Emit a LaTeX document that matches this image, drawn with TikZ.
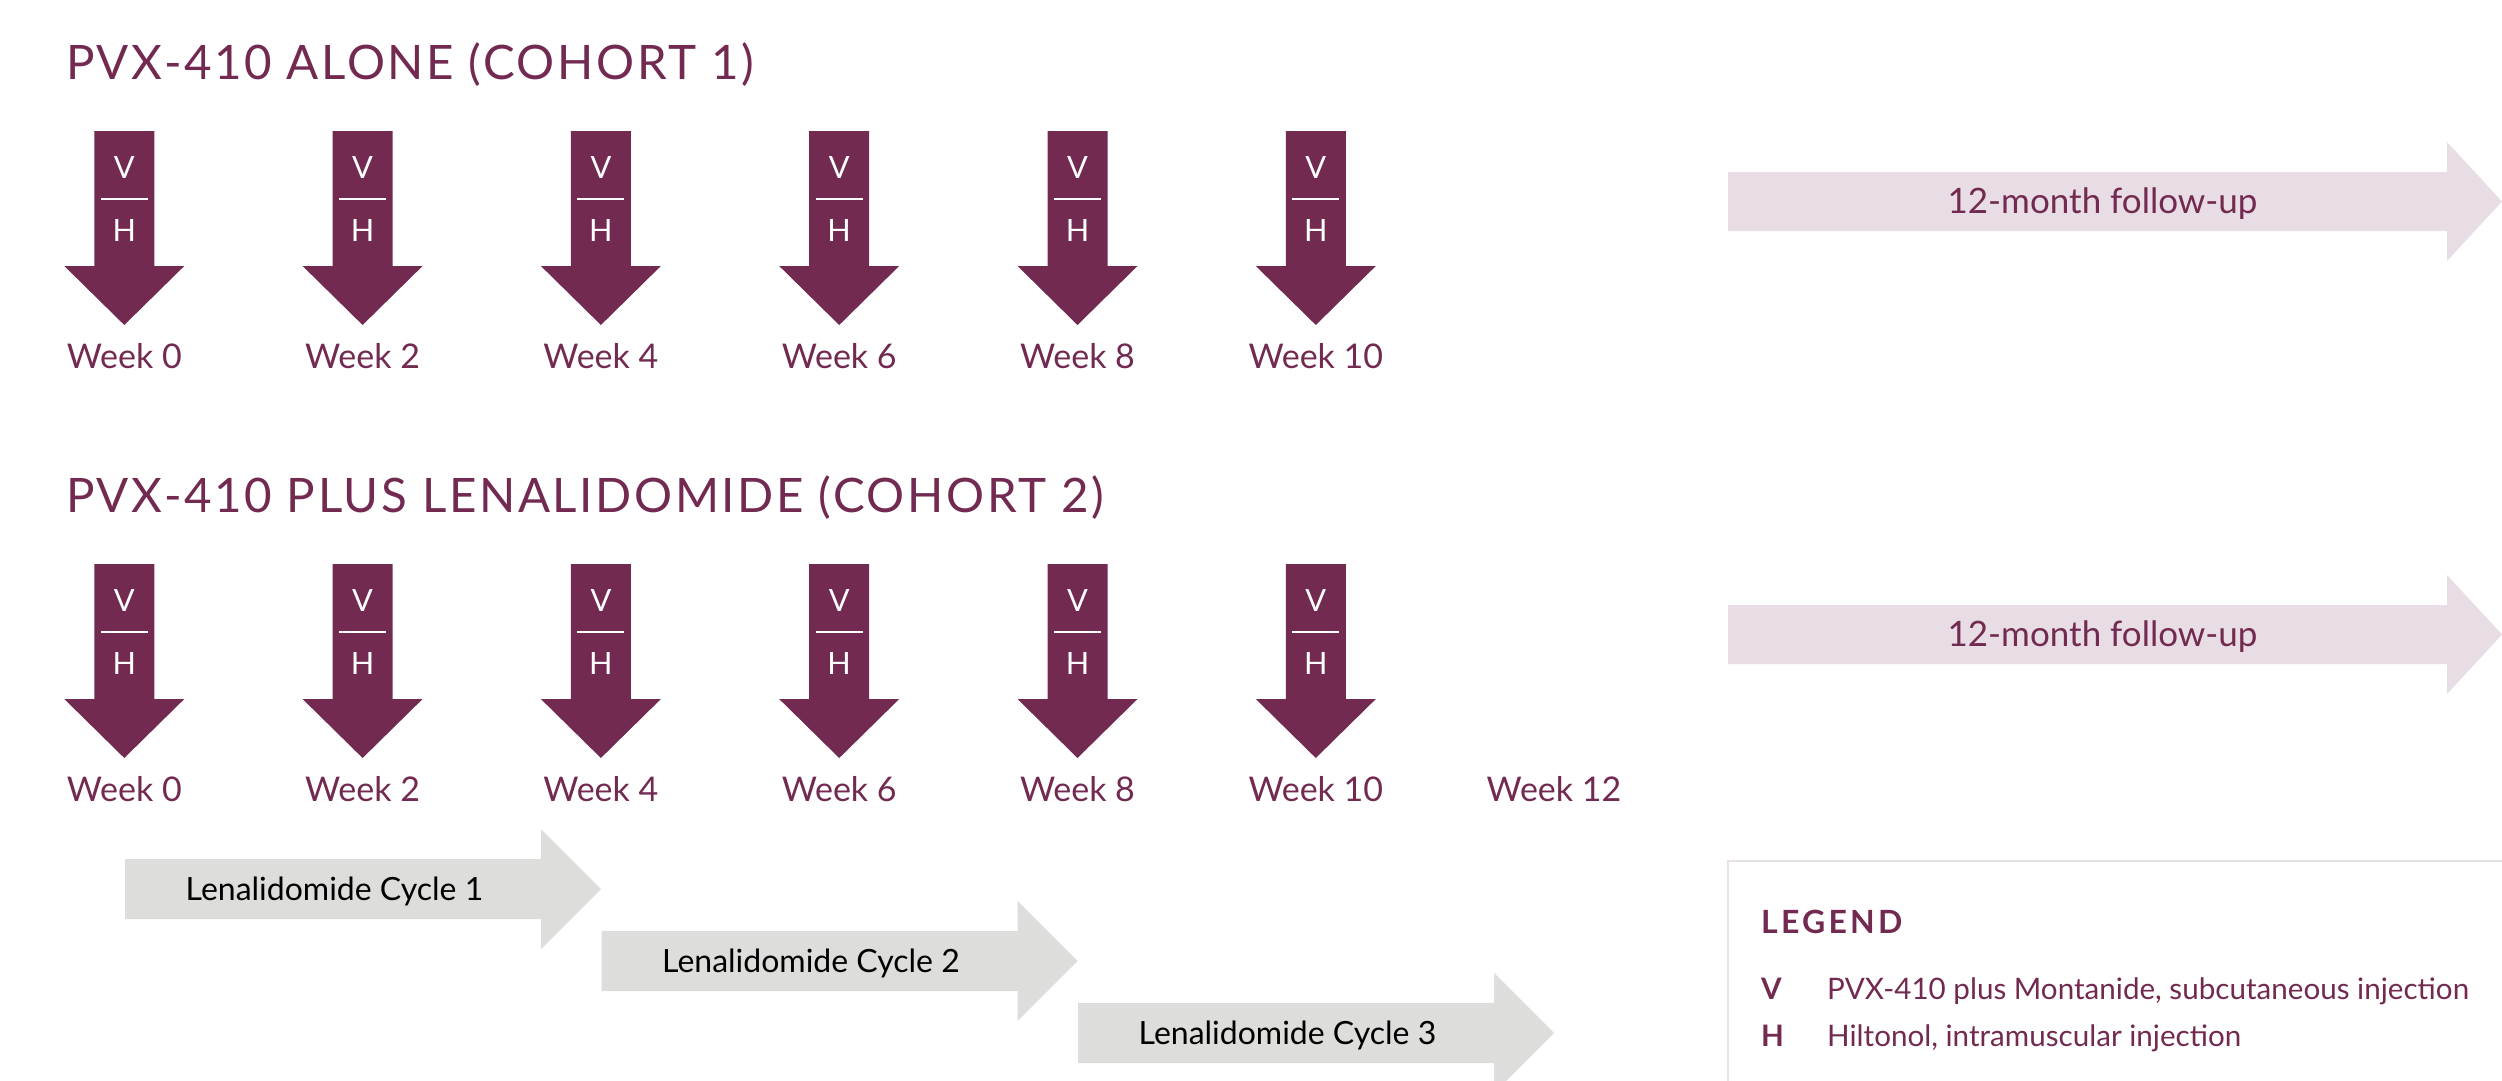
\documentclass[tikz,border=0pt]{standalone}
\usepackage{fontspec}
\setmainfont{Lato}
\newfontfamily\headfont{Lato}[LetterSpace=5.5]
\newfontfamily\legfont{Lato}[LetterSpace=10]
\usepackage{xcolor}
\definecolor{plum}{RGB}{114,42,80}
\definecolor{plumlight}{RGB}{232,221,228}
\definecolor{cyclegray}{RGB}{221,221,219}
\definecolor{legline}{RGB}{234,224,232}
\usetikzlibrary{positioning}

\begin{document}
\begin{tikzpicture}[x=1pt,y=1pt,
 every node/.style={inner sep=0pt,text=plum},
 head/.style={font=\headfont\fontsize{47.5}{50}\selectfont,anchor=base west},
 wk/.style={font=\fontsize{34}{36}\selectfont,anchor=base},
 vh/.style={font=\fontsize{30.7}{32}\selectfont,text=white},
 dose/.style={fill=plum},
 fup/.style={fill=plumlight},
 fuptxt/.style={font=\fontsize{35}{37}\selectfont,anchor=base},
 cyc/.style={fill=cyclegray},
 cyctxt/.style={font=\fontsize{32}{34}\selectfont,text=black,anchor=base},
 legtxt/.style={font=\fontsize{29.6}{31}\selectfont,anchor=base west}]
 \useasboundingbox (0,0) rectangle (2502,-1081);
 \clip (0,0) rectangle (2502,-1081);
 % titles
 \node[head] (t1) at (66,-79) {PVX-410 ALONE (COHORT 1)};
 \node[head] (t2) at (66,-512) {PVX-410 PLUS LENALIDOMIDE (COHORT 2)};
 % dosing arrows, both cohorts
 \foreach \r/\dy in {1/0,2/433} {
  \foreach \w in {0,...,5} {
   \pgfmathsetmacro\x{124.3+238.3*\w}
   \fill[dose] (\x-30,-131-\dy) -- (\x+30,-131-\dy) -- (\x+30,-266-\dy)
    -- (\x+60,-266-\dy) -- (\x,-325-\dy) -- (\x-60,-266-\dy)
    -- (\x-30,-266-\dy) -- cycle;
   \node[vh] (v\r-\w) at (\x,-167-\dy) {V};
   \node[vh] (h\r-\w) at (\x,-230-\dy) {H};
   \draw[white,line width=2.4] (\x-23.5,-199-\dy) -- (\x+23.5,-199-\dy);
   \pgfmathtruncatemacro\wn{2*\w}
   \node[wk] (wk\r-\w) at (\x,-368-\dy) {Week \wn};
  }
 }
 \node[wk] (wk2-6) at (1554,-801) {Week 12};
 % follow-up
 \foreach \r/\dy in {1/0,2/433} {
  \fill[fup] (1728,-172-\dy) -- (2447,-172-\dy) -- (2447,-142-\dy)
   -- (2502,-201.5-\dy) -- (2447,-261-\dy) -- (2447,-231-\dy)
   -- (1728,-231-\dy) -- cycle;
  \node[fuptxt] (fu\r) at (2102.5,-213-\dy) {12-month follow-up};
 }
 % lenalidomide cycles
 \foreach \c in {1,2,3} {
  \pgfmathsetmacro\xa{125+476.5*(\c-1)}
  \pgfmathsetmacro\yc{-889-72*(\c-1)}
  \fill[cyc] (\xa,\yc+30) -- (\xa+416,\yc+30) -- (\xa+416,\yc+60)
   -- (\xa+476,\yc) -- (\xa+416,\yc-60) -- (\xa+416,\yc-30)
   -- (\xa,\yc-30) -- cycle;
  \node[cyctxt] (cy\c) at (\xa+209.5,\yc-11) {Lenalidomide Cycle \c};
 }
 % legend
 \draw[legline,line width=2.5] (1728,-1100) -- (1728,-861) -- (2520,-861);
 \node[font=\legfont\bfseries\fontsize{32}{34}\selectfont,anchor=base west] (leg) at (1761,-933) {LEGEND};
 \node[legtxt,font=\bfseries\fontsize{29.6}{31}\selectfont] (lv) at (1761,-999) {V};
 \node[legtxt] (lvt) at (1827,-999) {PVX-410 plus Montanide, subcutaneous injection};
 \node[legtxt,font=\bfseries\fontsize{29.6}{31}\selectfont] (lh) at (1761,-1046) {H};
 \node[legtxt] (lht) at (1827,-1046) {Hiltonol, intramuscular injection};
\end{tikzpicture}
\end{document}
